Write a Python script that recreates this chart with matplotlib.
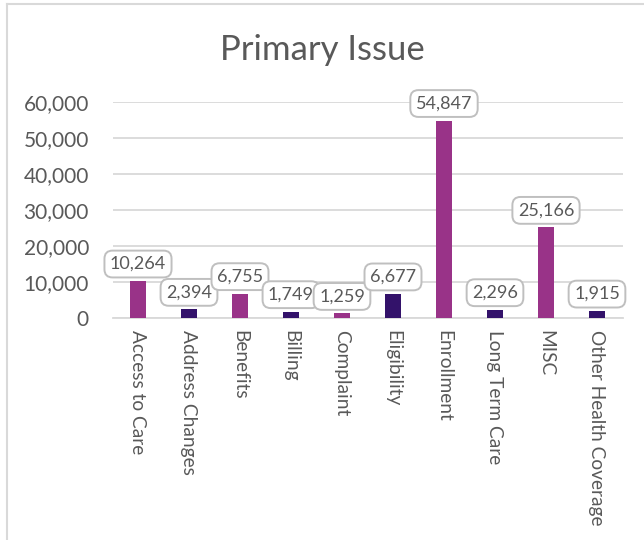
import matplotlib
matplotlib.use("Agg")
import matplotlib.pyplot as plt
from matplotlib.lines import Line2D
from matplotlib.ticker import FuncFormatter

categories = ["Access to Care", "Address Changes", "Benefits", "Billing", "Complaint",
              "Eligibility", "Enrollment", "Long Term Care", "MISC", "Other Health Coverage"]
counts = [10264, 2394, 6755, 1749, 1259, 6677, 54847, 2296, 25166, 1915]
bar_colors = ["#993388", "#33126A"] * 5
y_ticks = [0, 10000, 20000, 30000, 40000, 50000, 60000]

plt.rcParams["font.family"] = ["Lato", "DejaVu Sans"]
text_gray = "#595959"
grid_gray = "#D9D9D9"

fig = plt.figure(figsize=(6.44, 5.40), dpi=100)
W, H = 644, 540
ax = fig.add_axes([112.5 / W, 1 - 318 / H, (622.5 - 112.5) / W, (318 - 102) / H])

x = list(range(len(categories)))
bars = ax.bar(x, counts, width=0.31, color=bar_colors, zorder=3)

ax.set_xlim(-0.5, len(categories) - 0.5)
ax.set_ylim(0, 60000)
ax.set_yticks(y_ticks)
ax.yaxis.set_major_formatter(FuncFormatter(lambda v, p: f"{int(v):,}"))
ax.tick_params(axis="y", length=0, labelsize=15, labelcolor=text_gray, pad=17)
ax.set_xticks(x)
ax.set_xticklabels(categories, rotation=270, va="top", ha="center")
ax.tick_params(axis="x", length=0, labelsize=13.8, labelcolor=text_gray, pad=9)
ax.grid(axis="y", color=grid_gray, linewidth=1.3, zorder=0)
ax.set_axisbelow(True)
for s in ["top", "right", "left"]:
    ax.spines[s].set_visible(False)
ax.spines["bottom"].set_color(grid_gray)
ax.spines["bottom"].set_linewidth(1.3)

for xi, v in zip(x, counts):
    ax.annotate(f"{v:,}", xy=(xi, v), xytext=(0, 6.5), textcoords="offset points",
                ha="center", va="bottom", fontsize=13, color=text_gray,
                bbox=dict(boxstyle="round,pad=0.3,rounding_size=0.45", fc="white",
                          ec="#BFBFBF", lw=1.4), zorder=5, annotation_clip=False)

fig.text(0.5, 1 - 50 / H, "Primary Issue", ha="center", va="center",
         fontsize=25, color=text_gray)

# chart frame edges
fig.add_artist(Line2D([7 / W, 7 / W], [0, 1 - 4 / H], transform=fig.transFigure,
                      color=grid_gray, lw=1.5))
fig.add_artist(Line2D([7 / W, 1], [1 - 4 / H, 1 - 4 / H], transform=fig.transFigure,
                      color=grid_gray, lw=1.5))

fig.savefig("out.png", dpi=100, facecolor="white")
